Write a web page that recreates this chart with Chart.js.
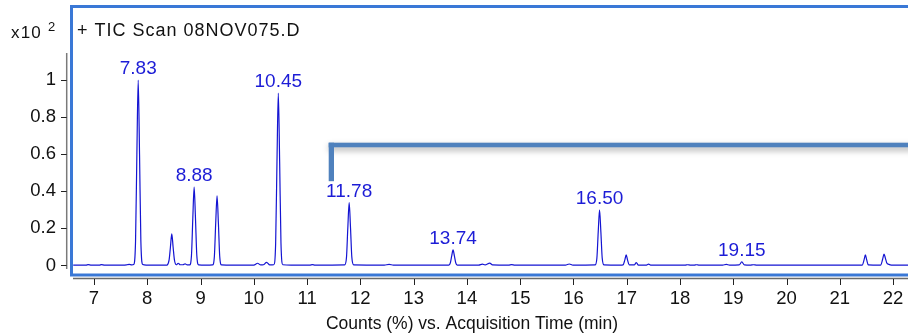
<!DOCTYPE html>
<html>
<head>
<meta charset="utf-8">
<script src="https://cdn.jsdelivr.net/npm/chart.js@4.4.1/dist/chart.umd.min.js"></script>
<style>
  html, body { margin: 0; padding: 0; background: #fff; }
  #wrap { position: relative; width: 908px; height: 334px; }
</style>
</head>
<body>
<div id="wrap"><canvas id="tic"></canvas></div>
<script>
// --- DANE: chromatogram TIC (czas w min, counts x10^2) ---
const traceTime = [
  6.61, 6.85, 6.89, 6.95, 7.10, 7.14, 7.20, 7.55, 7.62, 7.66, 7.71,
  7.745, 7.78, 7.805, 7.83, 7.855, 7.88, 7.915, 7.98,
  8.36, 8.375, 8.41, 8.435, 8.46, 8.485, 8.51, 8.545, 8.58, 8.62, 8.67, 8.71, 8.75,
  8.795, 8.83, 8.855, 8.88, 8.905, 8.93, 8.965, 9.10,
  9.225, 9.26, 9.285, 9.31, 9.335, 9.36, 9.395, 9.60,
  10.00, 10.07, 10.13, 10.18, 10.24, 10.30,
  10.375, 10.41, 10.435, 10.46, 10.485, 10.51, 10.545, 10.70,
  11.05, 11.10, 11.15,
  11.705, 11.74, 11.765, 11.79, 11.815, 11.84, 11.875,
  12.45, 12.54, 12.62,
  13.66, 13.69, 13.715, 13.74, 13.765, 13.79, 13.82,
  14.22, 14.29, 14.34, 14.43, 14.48, 14.78, 14.84, 14.90,
  15.85, 15.92, 15.99,
  16.405, 16.44, 16.465, 16.49, 16.515, 16.54, 16.575, 16.88,
  16.93, 16.965, 16.99, 17.015, 17.05, 17.14, 17.18, 17.22, 17.36, 17.41, 17.46,
  18.10, 18.14, 18.20, 18.27, 18.31, 18.36, 18.80, 18.87, 18.93,
  19.11, 19.16, 19.21, 19.32, 19.38, 19.44,
  21.40, 21.425, 21.455, 21.48, 21.505, 21.535, 21.75,
  21.77, 21.805, 21.83, 21.855, 21.88, 21.92, 21.97, 22.28
];
const traceCounts = [
  0.002, 0.002, 0.005, 0.002, 0.002, 0.005, 0.002, 0.002, 0.004, 0.006, 0.003,
  0.005, 0.13, 0.60, 1.00, 0.60, 0.13, 0.005, 0.002,
  0.002, 0.003, 0.03, 0.10, 0.17, 0.10, 0.03, 0.004, 0.012, 0.004, 0.004, 0.009, 0.003,
  0.003, 0.055, 0.255, 0.423, 0.255, 0.055, 0.003, 0.002,
  0.003, 0.05, 0.23, 0.376, 0.23, 0.05, 0.003, 0.002,
  0.002, 0.012, 0.003, 0.004, 0.017, 0.003,
  0.004, 0.12, 0.56, 0.93, 0.56, 0.12, 0.004, 0.002,
  0.002, 0.005, 0.002,
  0.003, 0.045, 0.205, 0.339, 0.205, 0.045, 0.003,
  0.002, 0.006, 0.002,
  0.002, 0.015, 0.052, 0.084, 0.052, 0.015, 0.002,
  0.002, 0.007, 0.003, 0.013, 0.003, 0.002, 0.005, 0.002,
  0.002, 0.008, 0.002,
  0.003, 0.04, 0.18, 0.30, 0.18, 0.04, 0.003, 0.002,
  0.003, 0.03, 0.057, 0.03, 0.003, 0.003, 0.015, 0.002, 0.002, 0.007, 0.002,
  0.002, 0.004, 0.002, 0.002, 0.004, 0.002, 0.002, 0.006, 0.002,
  0.003, 0.019, 0.003, 0.002, 0.004, 0.002,
  0.002, 0.003, 0.03, 0.057, 0.03, 0.003, 0.002,
  0.003, 0.035, 0.062, 0.04, 0.015, 0.006, 0.002, 0.002
];

// opisane piki (etykieta = czas retencji)
const peakLabels = ['7.83', '8.88', '10.45', '11.78', '13.74', '16.50', '19.15'];
const peakTimes = [7.83, 8.88, 10.46, 11.79, 13.74, 16.49, 19.16];
const peakHeights = [1.00, 0.423, 0.93, 0.339, 0.084, 0.30, 0.019];

const plotTitle = '+ TIC Scan 08NOV075.D';
const xTitle = 'Counts (%) vs. Acquisition Time (min)';

const FONT = '"Liberation Sans", Arial, Helvetica, sans-serif';
const TRACE_BLUE = '#1414d2';

// --- RAMKA, OSIE, ETYKIETY (rysowane recznie) ---
const decorPlugin = {
  id: 'decor',
  beforeDatasetsDraw(chart) {
    const ctx = chart.ctx;
    ctx.save();
    // niebieska ramka
    ctx.strokeStyle = '#3a78d6';
    ctx.lineWidth = 3;
    ctx.strokeRect(71.5, 6.5, 860, 268.5);
    // szara "klamra" z cieniem
    ctx.fillStyle = '#4f81bd';
    ctx.shadowColor = 'rgba(0,0,0,0.35)';
    ctx.shadowBlur = 6;
    ctx.shadowOffsetY = 3;
    ctx.fillRect(328.7, 142.7, 600, 4.6);
    ctx.shadowOffsetY = 0;
    ctx.shadowBlur = 0;
    ctx.fillRect(328.7, 142.7, 5.3, 38.5);
    ctx.restore();
  },
  afterDraw(chart) {
    const ctx = chart.ctx;
    const xs = chart.scales.x, ys = chart.scales.y;
    const area = chart.chartArea;
    ctx.save();
    // os Y (odsunieta w lewo)
    ctx.strokeStyle = '#7a7a7a';
    ctx.lineWidth = 1.5;
    ctx.beginPath();
    ctx.moveTo(66.7, area.top);
    ctx.lineTo(66.7, area.bottom);
    ctx.stroke();
    ctx.strokeStyle = '#222';
    ctx.lineWidth = 1;
    ys.ticks.forEach(t => {
      const py = Math.round(ys.getPixelForValue(t.value)) + 0.5;
      ctx.beginPath();
      ctx.moveTo(61, py);
      ctx.lineTo(66.7, py);
      ctx.stroke();
    });
    // os X (odsunieta w dol)
    ctx.strokeStyle = '#6a6a6a';
    ctx.lineWidth = 1.5;
    ctx.beginPath();
    ctx.moveTo(area.left, 278.5);
    ctx.lineTo(area.right, 278.5);
    ctx.stroke();
    ctx.strokeStyle = '#222';
    ctx.lineWidth = 1;
    xs.ticks.forEach(t => {
      const px = Math.round(xs.getPixelForValue(t.value)) + 0.5;
      ctx.beginPath();
      ctx.moveTo(px, 279);
      ctx.lineTo(px, 285);
      ctx.stroke();
    });

    // etykiety pikow
    ctx.fillStyle = '#1c1cd6';
    ctx.font = '19px ' + FONT;
    ctx.textAlign = 'center';
    ctx.textBaseline = 'alphabetic';
    peakLabels.forEach((lab, i) => {
      const px = xs.getPixelForValue(peakTimes[i]);
      const py = ys.getPixelForValue(peakHeights[i]);
      ctx.fillText(lab, px, py - 6);
    });

    // naglowki
    ctx.fillStyle = '#111';
    ctx.textAlign = 'left';
    ctx.font = '18px ' + FONT;
    ctx.letterSpacing = '1px';
    ctx.fillText(plotTitle, 77, 36);
    ctx.font = '17px ' + FONT;
    ctx.letterSpacing = '1.2px';
    ctx.fillText('x10', 11, 38);
    ctx.font = '13px ' + FONT;
    ctx.letterSpacing = '0px';
    ctx.fillText('2', 48, 31);
    ctx.font = '17.5px ' + FONT;
    ctx.textAlign = 'center';
    ctx.fillText(xTitle, 472, 329);
    ctx.restore();
  }
};

const ctx = document.getElementById('tic').getContext('2d');
new Chart(ctx, {
  type: 'line',
  data: {
    datasets: [{
      data: traceTime.map((t, i) => ({ x: t, y: traceCounts[i] })),
      borderColor: TRACE_BLUE,
      borderWidth: 1.2,
      pointRadius: 0,
      fill: false,
      cubicInterpolationMode: 'monotone'
    }]
  },
  options: {
    responsive: true,
    maintainAspectRatio: false,
    animation: false,
    devicePixelRatio: 1,
    layout: { padding: { top: 53, left: 0, right: 0, bottom: 0 } },
    plugins: {
      legend: { display: false },
      tooltip: { enabled: false }
    },
    scales: {
      x: {
        type: 'linear',
        min: 6.606,
        max: 22.28,
        // stala wysokosc osi, bez dodatkowego marginesu na etykiety
        afterFit: s => { s.height = 65; s.paddingLeft = 0; s.paddingRight = 0; },
        grid: { display: false, drawTicks: false },
        border: { display: false },
        ticks: {
          stepSize: 1,
          includeBounds: false,
          autoSkip: false,
          maxRotation: 0,
          padding: 19,
          color: '#111',
          font: { family: FONT, size: 18.5 },
          callback: v => String(v)
        }
      },
      y: {
        min: -0.0189,
        max: 1.1456,
        afterFit: s => { s.width = 73; s.paddingTop = 0; s.paddingBottom = 0; },
        grid: { display: false, drawTicks: false },
        border: { display: false },
        ticks: {
          stepSize: 0.2,
          includeBounds: false,
          padding: 17,
          color: '#111',
          font: { family: FONT, size: 18.5 },
          callback: v => String(Math.round(v * 10) / 10)
        }
      }
    }
  },
  plugins: [decorPlugin]
});
</script>
</body>
</html>
